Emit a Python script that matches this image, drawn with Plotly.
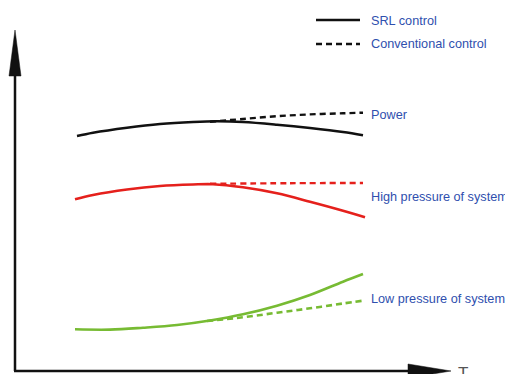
import plotly.graph_objects as go

# Schematic curves (x = T position, y = level; screen-like units, y grows downward)
power_srl_x = [77, 93, 127, 160, 193, 217, 243, 277, 310, 343, 363]
power_srl_y = [136, 132.7, 127.7, 124, 122, 121.3, 122, 124.7, 128, 132, 135.3]
power_conv_x = [210, 243, 277, 310, 343, 363]
power_conv_y = [121.7, 119, 116.2, 114.4, 113.3, 112.7]

high_srl_x = [75, 93, 127, 160, 193, 213, 243, 277, 310, 343, 365]
high_srl_y = [199.3, 195, 189.5, 186, 184.5, 184.2, 187.3, 193.3, 201.7, 210.7, 217.3]
high_conv_x = [210, 290, 363]
high_conv_y = [183.8, 183.2, 183]

low_srl_x = [75, 110, 143, 177, 210, 243, 277, 310, 343, 363]
low_srl_y = [329.3, 329.6, 327.7, 325, 320.5, 314.3, 305.7, 295, 281.7, 274]
low_conv_x = [207, 243, 277, 310, 343, 363]
low_conv_y = [321, 317.3, 312.7, 308.3, 303.5, 300.7]

legend_labels = ["SRL control", "Conventional control"]
curve_labels = ["Power", "High pressure of system", "Low pressure of system"]
axis_label = "T"

BLACK = "#111111"
RED = "#e5201c"
GREEN = "#77bb33"
BLUE = "#2f4fae"

fig = go.Figure()

def add(x, y, color, dash, width=2.4):
    fig.add_trace(go.Scatter(x=x, y=y, mode="lines",
                             line=dict(color=color, width=width, dash=dash, shape="spline", smoothing=1),
                             hoverinfo="skip", showlegend=False))

add(power_srl_x, power_srl_y, BLACK, "solid")
add(power_conv_x, power_conv_y, BLACK, "6px,4px")
add(high_srl_x, high_srl_y, RED, "solid", 2.6)
add(high_conv_x, high_conv_y, RED, "6px,4px")
add(low_srl_x, low_srl_y, GREEN, "solid", 2.6)
add(low_conv_x, low_conv_y, GREEN, "6px,4px", 2.6)

shapes = [
    # y axis
    dict(type="line", x0=15, x1=15, y0=371, y1=70, line=dict(color=BLACK, width=2.5)),
    dict(type="path", path="M 9 76 L 21 76 L 15 30 Z", fillcolor=BLACK, line=dict(color=BLACK, width=0.5)),
    # x axis
    dict(type="line", x0=14, x1=410, y0=371, y1=371, line=dict(color=BLACK, width=2.5)),
    dict(type="path", path="M 408 364 L 408 378 L 451 371 Z", fillcolor=BLACK, line=dict(color=BLACK, width=0.5)),
    # legend samples
    dict(type="line", x0=316, x1=360, y0=20, y1=20, line=dict(color=BLACK, width=2.5)),
    dict(type="line", x0=316, x1=360, y0=44, y1=44, line=dict(color=BLACK, width=2.5, dash="6px,4px")),
]

font = dict(family="Liberation Sans, Arial", size=12.7, color=BLUE)
annotations = []
for txt, y in zip(legend_labels, [20.5, 44]):
    annotations.append(dict(x=368.5, y=y, text=txt, showarrow=False, xanchor="left", yanchor="middle", font=font))
for txt, y in zip(curve_labels, [114.5, 197.3, 298.5]):
    annotations.append(dict(x=368.5, y=y, text=txt, showarrow=False, xanchor="left", yanchor="middle", font=font))
annotations.append(dict(x=456, y=362, text=axis_label, showarrow=False, xanchor="left", yanchor="top",
                        font=dict(family="Liberation Sans, Arial", size=17, color="#555555")))

fig.update_layout(
    width=505, height=374,
    margin=dict(l=0, r=0, t=0, b=0),
    paper_bgcolor="white", plot_bgcolor="white",
    xaxis=dict(range=[0, 505], visible=False, fixedrange=True),
    yaxis=dict(range=[374, 0], visible=False, fixedrange=True),
    shapes=shapes, annotations=annotations,
)

fig.write_html("out.html", config={"displayModeBar": False},
               post_script="document.body.style.margin='0';document.body.style.overflow='hidden';")
